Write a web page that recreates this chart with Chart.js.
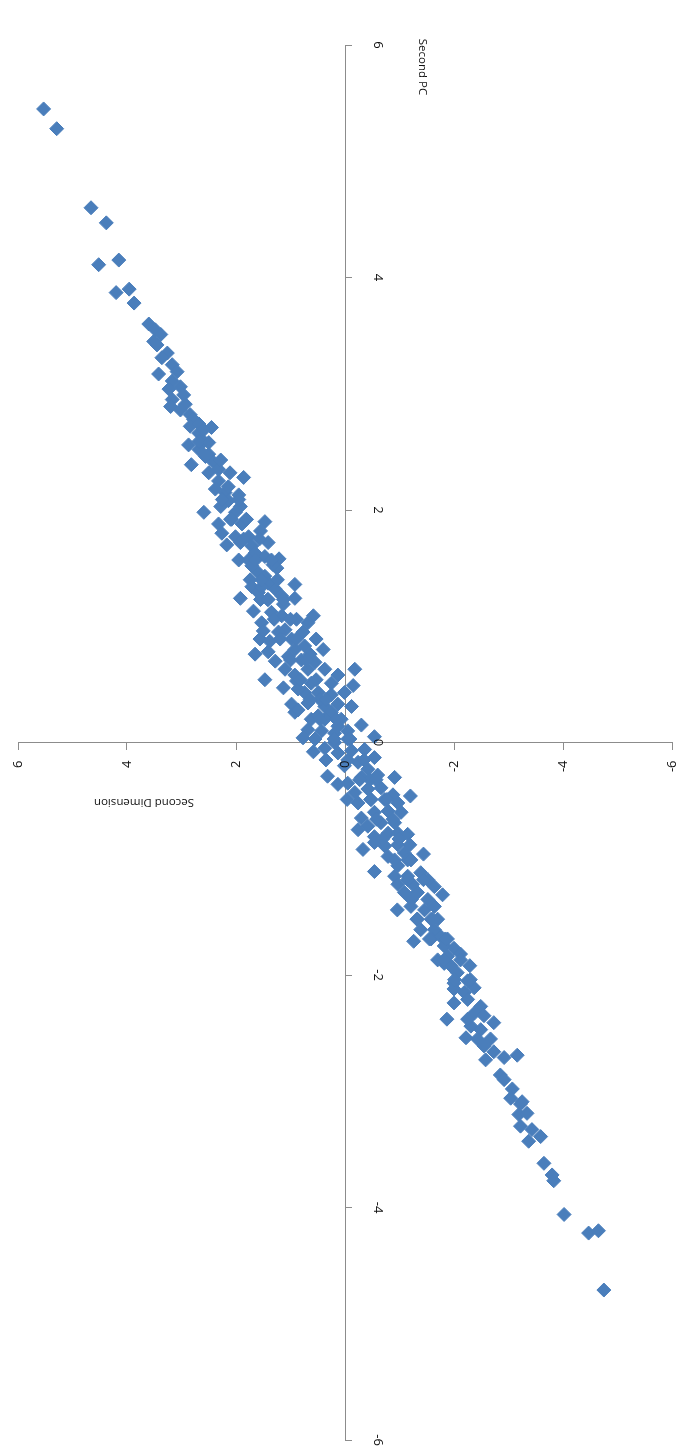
<!DOCTYPE html>
<html>
<head>
<meta charset="utf-8">
<title>Second PC vs Second Dimension</title>
<script src="https://cdn.jsdelivr.net/npm/chart.js@4.4.1/dist/chart.umd.min.js"></script>
<style>
  html, body { margin: 0; padding: 0; background: #ffffff; }
  #chart { display: block; }
</style>
</head>
<body>
<canvas id="chart" width="680" height="1455"></canvas>
<script>
// Scores on the second dimension (horizontal axis, read right-to-left)
const secondDimension = [
  5.53, 5.29, 4.66, 4.38, 4.52, 4.15, 4.20, 3.96, 3.87, 3.60,
  3.48, 3.38, 3.51, 3.26, 3.36, 3.17, 3.42, 3.08, 3.02, 3.17,
  3.17, 3.20, 2.93, 3.02, 2.84, 2.78, 2.84, 2.45, 2.68, 2.87,
  2.59, 2.68, 2.50, 2.82, 2.41, 2.32, 2.11, 1.86, 2.50, 2.68,
  2.50, 2.56, 2.32, 2.38, 2.20, 2.14, 1.92, 2.59, 2.01, 2.08,
  2.32, 1.47, 1.89, 2.26, 2.01, 1.77, 1.92, 1.71, 1.41, 1.65,
  1.77, 1.47, 1.21, 1.25, 1.71, 1.59, 1.74, 1.47, 1.41, 0.92,
  1.71, 1.28, 1.59, 1.92, 1.16, 0.92, 1.53, 1.41, 1.53, 1.35,
  1.16, 0.58, 0.68, 1.56, 1.38, 1.50, 1.10, 0.98, 1.65, 1.28,
  0.92, 0.74, 0.40, 1.04, 0.80, 0.55, 1.47, 1.10, 0.92, 0.68,
  0.37, 0.13, -0.18, 1.13, 0.89, 0.62, 0.25, -0.15, 0.74, 0.49,
  0.25, 0.98, 0.92, 0.68, 0.37, 0.13, -0.12, 0.62, 0.37, 0.07,
  -0.30, 0.68, 0.43, 0.19, -0.05, -0.54, 0.01, 0.86, 0.49, 0.25,
  0.13, 0.55, 0.37, 0.19, -0.05, 0.13, -0.12, -0.36, -0.54, 0.32,
  0.01, -0.24, -0.42, -0.05, -0.30, -0.60, -0.91, -0.18, -0.42, -0.66,
  -1.20, -0.24, -0.48, -0.73, -0.97, -0.30, -0.54, -0.79, -1.03, -0.42,
  -0.66, -0.91, -0.54, -0.79, -0.97, -0.73, -0.97, -1.09, -0.79, -1.44,
  -0.54, -0.54, -0.97, -1.15, -0.91, -1.15, -1.39, -1.52, -1.64, -1.79,
  -1.09, -1.33, -0.96, -1.21, -1.46, -1.64, -1.33, -1.58, -1.39, -1.26,
  -1.64, -1.58, -1.76, -1.82, -2.00, -1.88, -2.12, -1.94, -2.29, -2.06,
  -2.00, -2.25, -2.37, -1.82, -2.00, -2.19, -2.00, -1.87, -2.25, -2.49,
  -2.37, -2.55, -2.73, -2.31, -2.49, -2.22, -2.43, -2.67, -2.55, -2.73,
  -2.92, -3.16, -2.85, -2.92, -3.07, -3.04, -3.25, -3.22, -3.19, -3.34,
  -3.22, -3.43, -3.59, -3.37, -3.65, -3.80, -3.83, -4.02, -4.47, -4.65,
  -4.75,
  // observations packed in the dense middle of the cloud
  2.14, 1.95, 2.28, 1.81, 2.17, 1.55, 1.95, 1.32, 1.55, 1.13,
  1.68, 0.89, 1.22, 0.77, 0.53, 1.41, 0.64, 0.86, 0.46, 0.77,
  0.58, 0.35, 0.13, -0.46, -0.04, -0.24, -0.88, -1.15, -0.33, -1.19,
  -1.24, -0.97, -1.70, -1.70, -1.88, -2.25, 2.96, 2.68,
  2.25, 1.95, 2.10, 1.81, 1.86, 1.57, 1.64, 1.35, 1.53, 1.24,
  1.42, 1.13, 1.30, 1.00, 1.19, 0.89, 1.00, 0.71, 0.82, 0.53,
  0.64, 0.35, 0.46, 0.16, 0.20, -0.09, -0.05, -0.35, -0.27, -0.57,
  -0.47, -0.77, -0.58, -0.88, -0.69, -0.99, -0.91, -1.21, -1.15, -1.44,
  -1.22, -1.52, -1.32, -1.61, -1.55, -1.84, -1.83, -2.12, -2.01, -2.30,
  3.45, 3.23, 2.59, 2.28, -2.58
];

// Scores on the second principal component (vertical axis)
const secondPC = [
  5.45, 5.28, 4.60, 4.47, 4.11, 4.15, 3.87, 3.90, 3.78, 3.60,
  3.55, 3.51, 3.45, 3.35, 3.31, 3.25, 3.17, 3.19, 3.06, 3.11,
  2.95, 2.89, 2.91, 2.86, 2.82, 2.78, 2.72, 2.71, 2.66, 2.56,
  2.59, 2.52, 2.48, 2.39, 2.41, 2.35, 2.32, 2.28, 2.32, 2.59,
  2.58, 2.46, 2.25, 2.18, 2.15, 2.08, 2.03, 1.98, 1.98, 1.92,
  1.88, 1.90, 1.88, 1.80, 1.77, 1.77, 1.72, 1.69, 1.72, 1.63,
  1.57, 1.60, 1.58, 1.50, 1.52, 1.46, 1.40, 1.43, 1.37, 1.36,
  1.34, 1.32, 1.29, 1.24, 1.26, 1.24, 1.34, 1.23, 1.03, 1.12,
  1.09, 1.09, 1.03, 0.89, 0.87, 0.96, 0.97, 0.89, 0.76, 0.70,
  0.80, 0.83, 0.80, 0.74, 0.71, 0.69, 0.54, 0.63, 0.58, 0.63,
  0.63, 0.58, 0.63, 0.47, 0.53, 0.51, 0.51, 0.49, 0.43, 0.43,
  0.41, 0.33, 0.26, 0.34, 0.31, 0.33, 0.31, 0.20, 0.20, 0.20,
  0.15, 0.11, 0.10, 0.08, 0.10, 0.05, 0.43, 0.28, 0.23, 0.26,
  0.14, 0.03, -0.05, 0.00, 0.03, -0.09, -0.07, -0.06, -0.13, -0.29,
  -0.20, -0.17, -0.23, -0.35, -0.30, -0.28, -0.30, -0.43, -0.40, -0.39,
  -0.46, -0.52, -0.49, -0.49, -0.52, -0.65, -0.60, -0.59, -0.60, -0.72,
  -0.69, -0.69, -0.81, -0.78, -0.78, -0.89, -0.88, -0.95, -0.98, -0.96,
  -0.86, -1.11, -1.06, -1.01, -1.15, -1.15, -1.12, -1.18, -1.24, -1.31,
  -1.29, -1.29, -1.44, -1.41, -1.44, -1.41, -1.52, -1.52, -1.61, -1.71,
  -1.61, -1.69, -1.67, -1.75, -1.77, -1.84, -1.82, -1.92, -1.92, -1.98,
  -2.07, -2.05, -2.11, -1.90, -2.12, -2.15, -2.24, -2.38, -2.21, -2.27,
  -2.33, -2.35, -2.41, -2.44, -2.47, -2.54, -2.55, -2.55, -2.61, -2.66,
  -2.71, -2.69, -2.86, -2.90, -2.98, -3.06, -3.09, -3.11, -3.20, -3.19,
  -3.30, -3.33, -3.39, -3.43, -3.62, -3.72, -3.77, -4.06, -4.22, -4.20,
  -4.71,
  // observations packed in the dense middle of the cloud
  2.20, 2.13, 2.03, 1.92, 1.70, 1.82, 1.57, 1.53, 1.23, 1.19,
  1.13, 1.06, 0.95, 0.95, 0.89, 0.78, 0.76, 0.46, 0.37, 0.04,
  -0.08, -0.15, -0.36, -0.32, -0.49, -0.75, -0.45, -0.79, -0.92, -0.88,
  -1.22, -1.22, -1.87, -1.52, -1.69, -2.38, 2.99, 2.74,
  2.09, 2.09, 1.92, 1.92, 1.75, 1.75, 1.57, 1.57, 1.40, 1.40,
  1.23, 1.23, 1.06, 1.06, 0.89, 0.89, 0.71, 0.71, 0.54, 0.54,
  0.37, 0.37, 0.20, 0.20, 0.03, 0.03, -0.15, -0.15, -0.32, -0.32,
  -0.49, -0.49, -0.66, -0.66, -0.83, -0.83, -1.01, -1.01, -1.18, -1.18,
  -1.35, -1.35, -1.52, -1.52, -1.69, -1.69, -1.87, -1.87, -2.04, -2.04,
  3.42, 3.04, 2.69, 2.43, -2.73
];

// Tick values shared by both axes
const axisTicks = [-6, -4, -2, 0, 2, 4, 6];

// Axis titles
const horizontalTitle = 'Second Dimension';
const verticalTitle = 'Second PC';

const points = secondDimension.map((d, i) => ({ x: d, y: secondPC[i] }));

const TEXT_COLOR = '#111111';
const AXIS_COLOR = '#8c8c8c';
const MARKER_COLOR = '#4a7ebb';

// Rotated tick labels and axis titles, drawn on top of the markers
const axisTextPlugin = {
  id: 'axisText',
  afterDatasetsDraw(chart) {
    const { ctx } = chart;
    const xs = chart.scales.x;
    const ys = chart.scales.y;
    const xAxisPx = ys.getPixelForValue(0);   // vertical position of horizontal axis
    const yAxisPx = xs.getPixelForValue(0);   // horizontal position of vertical axis

    ctx.save();
    ctx.fillStyle = TEXT_COLOR;
    ctx.font = '13px "Open Sans", "Noto Sans", sans-serif';
    ctx.textBaseline = 'middle';

    // horizontal axis labels, turned a quarter counter-clockwise
    xs.ticks.forEach(t => {
      const px = xs.getPixelForValue(t.value);
      ctx.save();
      ctx.translate(px, xAxisPx + 18);
      ctx.rotate(-Math.PI / 2);
      ctx.textAlign = 'right';
      ctx.fillText(String(t.value), 0, 0);
      ctx.restore();
    });

    // vertical axis labels, turned a quarter clockwise
    ys.ticks.forEach(t => {
      const py = ys.getPixelForValue(t.value);
      ctx.save();
      ctx.translate(yAxisPx + 33, py);
      ctx.rotate(Math.PI / 2);
      ctx.textAlign = 'center';
      ctx.fillText(String(t.value), 0, 0);
      ctx.restore();
    });

    // axis titles
    ctx.font = '11.5px "Open Sans", "Noto Sans", sans-serif';
    ctx.save();
    ctx.translate(144, xAxisPx + 60);
    ctx.rotate(Math.PI);
    ctx.textAlign = 'center';
    ctx.fillText(horizontalTitle, 0, 0);
    ctx.restore();

    ctx.save();
    ctx.translate(yAxisPx + 77, 67);
    ctx.rotate(Math.PI / 2);
    ctx.textAlign = 'center';
    ctx.fillText(verticalTitle, 0, 0);
    ctx.restore();

    ctx.restore();
  }
};

const useAxisTicks = scale => {
  scale.ticks = axisTicks.map(v => ({ value: v }));
};

new Chart(document.getElementById('chart'), {
  type: 'scatter',
  data: {
    datasets: [{
      label: 'Second PC',
      data: points,
      pointStyle: 'rectRot',
      pointRadius: 7,
      pointHoverRadius: 7,
      pointBackgroundColor: MARKER_COLOR,
      pointBorderColor: MARKER_COLOR,
      pointBorderWidth: 1
    }]
  },
  options: {
    responsive: false,
    animation: false,
    devicePixelRatio: 1,
    layout: { padding: { left: 18, right: 5, top: 45, bottom: 15 } },
    plugins: {
      legend: { display: false },
      tooltip: { enabled: false }
    },
    scales: {
      x: {
        type: 'linear',
        reverse: true,
        min: -6,
        max: 6,
        position: { y: 0 },
        afterBuildTicks: useAxisTicks,
        ticks: { display: false },
        grid: {
          drawOnChartArea: false,
          drawTicks: true,
          tickLength: 7,
          tickColor: AXIS_COLOR
        },
        border: { display: true, color: AXIS_COLOR, width: 1 }
      },
      y: {
        type: 'linear',
        min: -6,
        max: 6,
        position: { x: 0 },
        afterBuildTicks: useAxisTicks,
        ticks: { display: false },
        grid: {
          drawOnChartArea: false,
          drawTicks: true,
          tickLength: -7,
          tickColor: AXIS_COLOR
        },
        border: { display: true, color: AXIS_COLOR, width: 1 }
      }
    }
  },
  plugins: [axisTextPlugin]
});
</script>
</body>
</html>
